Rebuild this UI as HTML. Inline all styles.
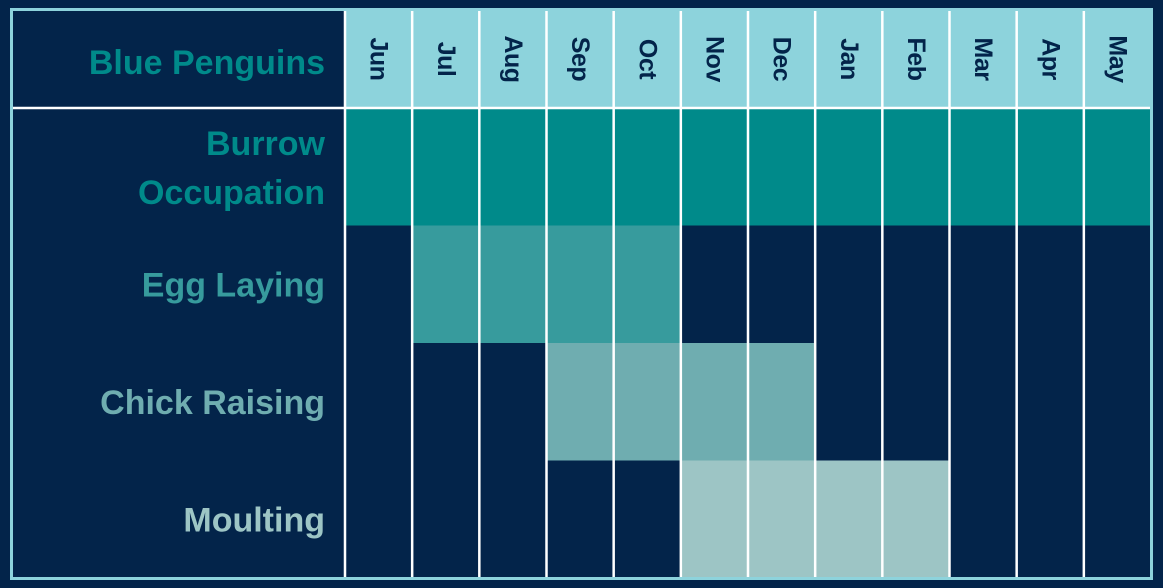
<!DOCTYPE html>
<html><head><meta charset="utf-8"><style>
html,body{margin:0;padding:0;background:#03244a;}
svg{display:block;}
</style></head><body>
<svg id="chart" width="1163" height="588" xmlns="http://www.w3.org/2000/svg" font-family="Liberation Sans, sans-serif"></svg>
<script>
const months = ["Jun","Jul","Aug","Sep","Oct","Nov","Dec","Jan","Feb","Mar","Apr","May"];
const activities = ["Burrow Occupation","Egg Laying","Chick Raising","Moulting"];
const startMonth = [0,1,3,5];
const endMonth = [11,4,6,8];
const title = "Blue Penguins";

(function(){
const NS="http://www.w3.org/2000/svg";
const svg=document.getElementById('chart');
const fills=["#008a8a","#379b9d","#6fadb0","#9dc5c5"];
const textCols=["#008a8a","#379b9d","#6fadb0","#9dc5c5"];
const x0=345, x1=1151, topY=10, headerBottom=108, bottomY=578;
const colW=(x1-x0)/months.length;
const rowH=(bottomY-headerBottom)/activities.length;
function xPos(i){return x0+i*colW;}
function yPos(r){return headerBottom+r*rowH;}
function mk(tag,attrs){const e=document.createElementNS(NS,tag);for(const k in attrs)e.setAttribute(k,attrs[k]);svg.appendChild(e);return e;}

months.forEach((m,i)=>{
  const r=mk('rect',{x:xPos(i),y:topY,width:colW,height:headerBottom-topY,fill:'#8dd3dc'});
  
  
  const cx=xPos(i)+colW/2, cy=(topY+headerBottom)/2;
  const t=mk('text',{x:cx,y:cy,'text-anchor':'middle','dominant-baseline':'central','font-size':'25','font-weight':'bold',fill:'#03244a',transform:`rotate(90 ${cx} ${cy})`,'letter-spacing':'-0.5'});
  t.textContent=m;
  
  
});
const tt=mk('text',{x:325,y:74,'text-anchor':'end','font-size':'34','font-weight':'bold',fill:'#008a8a'});
tt.textContent=title;



activities.forEach((a,r)=>{
  const b=mk('rect',{x:xPos(startMonth[r]),y:yPos(r),width:(endMonth[r]-startMonth[r]+1)*colW,height:rowH,fill:fills[r]});
  
  
  const words=a.split(' ');
  const cy=yPos(r)+rowH/2;
  if(r===0){
    words.forEach((w,k)=>{
      const t=mk('text',{x:325,y:cy-12+k*49,'text-anchor':'end','font-size':'34','font-weight':'bold',fill:textCols[r]});
      t.textContent=w;
      
      
    });
  } else {
    const t=mk('text',{x:325,y:cy+12,'text-anchor':'end','font-size':'34','font-weight':'bold',fill:textCols[r]});
    t.textContent=a;
    
    
  }
});

for(let i=0;i<months.length;i++){
  const l=mk('line',{x1:xPos(i),x2:xPos(i),y1:topY,y2:bottomY,stroke:'#ffffff','stroke-width':'2.5'});
  
  
}
const hl=mk('line',{x1:12,x2:x1,y1:headerBottom,y2:headerBottom,stroke:'#ffffff','stroke-width':'2.5'});


const border=mk('rect',{x:11.5,y:9.5,width:1140,height:569,fill:'none',stroke:'#8dd3dc','stroke-width':'3'});


})();
</script>
</body></html>
